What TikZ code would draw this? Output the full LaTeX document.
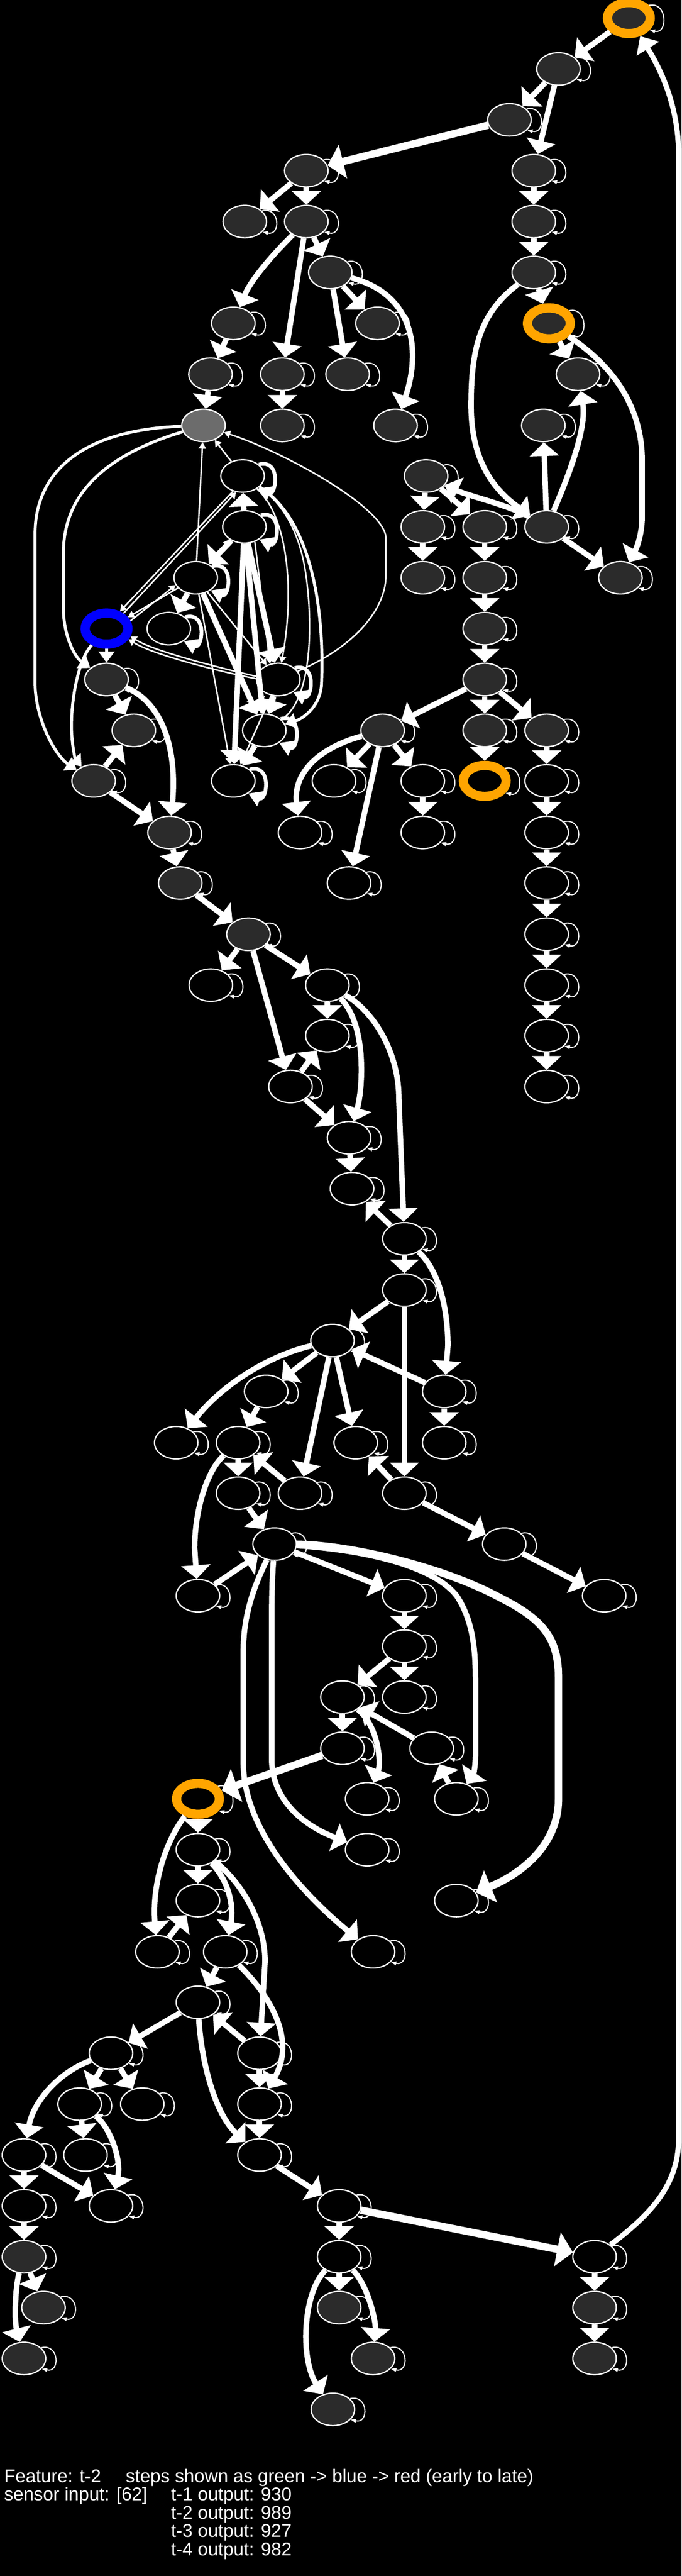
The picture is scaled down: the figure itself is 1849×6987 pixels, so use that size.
\documentclass[tikz,border=0pt]{standalone}
\usepackage{fontspec}
\setmainfont{Liberation Sans}
\usetikzlibrary{arrows.meta,shapes.geometric}
\definecolor{dkc}{HTML}{2B2B2B}
\definecolor{gyc}{HTML}{6C6C6C}
\definecolor{orc}{HTML}{FFA500}
\definecolor{blc}{HTML}{0000FF}
\begin{document}
\begin{tikzpicture}[x=1pt,y=-1pt,
 nd/.style={ellipse,draw=white,line width=3.5pt,minimum width=118pt,minimum height=88pt,inner sep=0pt},
 dk/.style={nd,fill=dkc},
 bk/.style={nd,fill=black},
 gy/.style={nd,fill=gyc},
 rg/.style={ellipse,line width=25pt,minimum width=116pt,minimum height=84pt,inner sep=0pt},
 orD/.style={rg,draw=orc,fill=dkc},
 orB/.style={rg,draw=orc,fill=black},
 blB/.style={rg,draw=blc,fill=black},
 ek/.style={draw=white,line width=15pt,-{Triangle[width=78pt,length=37pt]}},
 ex/.style={draw=white,line width=20pt,-{Triangle[width=92pt,length=43pt]}},
 ew/.style={draw=white,line width=14pt,-{Triangle[width=70pt,length=40pt]}},
 em/.style={draw=white,line width=8pt,-{Triangle[width=42pt,length=30pt]}},
 et/.style={draw=white,line width=4pt,-{Triangle[width=20pt,length=17pt]}},
 sl/.style={draw=white,line width=3pt,-{Triangle[width=10pt,length=15pt]}},
 slk/.style={draw=white,line width=10pt,-{Triangle[width=42pt,length=36pt]}},
 lab/.style={anchor=base west,inner sep=0pt,text=white,font=\fontsize{50}{50}\selectfont}
]
\useasboundingbox (0,0) rectangle (1849,6987);
\fill[black] (0,0) rectangle (1849,6987);

% ---------- nodes ----------
\node[orD] (A1) at (1706,49) {};
\node[dk] (A2) at (1515,187) {};
\node[dk] (A3) at (1382,325) {};
\node[dk] (A4) at (831,463) {};
\node[dk] (A5) at (1448,463) {};
\node[dk] (A6) at (664,601) {};
\node[dk] (A7) at (831,601) {};
\node[dk] (A8) at (1448,601) {};
\node[dk] (A9) at (896,739) {};
\node[dk] (A10) at (1448,739) {};
\node[dk] (A11) at (633,877) {};
\node[dk] (A12) at (1024,877) {};
\node[orD] (A13) at (1489,877) {};
\node[dk] (A14) at (571,1015) {};
\node[dk] (A15) at (766,1015) {};
\node[dk] (A16) at (943,1015) {};
\node[dk] (A17) at (1568,1015) {};
\node[gy] (B1) at (552,1154) {};
\node[dk] (B2) at (766,1154) {};
\node[dk] (B3) at (1073,1154) {};
\node[dk] (B4) at (1474,1154) {};
\node[bk] (B5) at (658,1291) {};
\node[dk] (B6) at (1156,1291) {};
\node[bk] (B7) at (663,1429) {};
\node[dk] (B8) at (1147,1429) {};
\node[dk] (B9) at (1315,1429) {};
\node[dk] (B10) at (1483,1429) {};
\node[bk] (B11) at (531,1567) {};
\node[dk] (B12) at (1147,1567) {};
\node[dk] (B13) at (1315,1567) {};
\node[dk] (B14) at (1683,1567) {};
\node[blB] (B15) at (289,1705) {};
\node[bk] (B16) at (458,1705) {};
\node[dk] (B17) at (1315,1705) {};
\node[dk] (B18) at (289,1843) {};
\node[bk] (B19) at (755,1843) {};
\node[dk] (B20) at (1315,1843) {};
\node[dk] (B21) at (363,1981) {};
\node[bk] (B22) at (717,1981) {};
\node[dk] (B23) at (1038,1981) {};
\node[dk] (B24) at (1315,1981) {};
\node[dk] (B25) at (1483,1981) {};
\node[dk] (B26) at (254,2118) {};
\node[bk] (B27) at (633,2118) {};
\node[bk] (B28) at (906,2118) {};
\node[bk] (B29) at (1147,2118) {};
\node[orB] (B30) at (1315,2118) {};
\node[bk] (B31) at (1483,2118) {};
\node[dk] (C1) at (460,2258) {};
\node[bk] (C2) at (814,2258) {};
\node[bk] (C3) at (1147,2258) {};
\node[bk] (C4) at (1483,2258) {};
\node[dk] (C5) at (489,2395) {};
\node[bk] (C6) at (947,2395) {};
\node[bk] (C7) at (1483,2395) {};
\node[dk] (C8) at (674,2534) {};
\node[bk] (C9) at (1483,2534) {};
\node[bk] (C10) at (572,2672) {};
\node[bk] (C11) at (888,2672) {};
\node[bk] (C12) at (1483,2672) {};
\node[bk] (C13) at (888,2809) {};
\node[bk] (C14) at (1483,2809) {};
\node[bk] (C15) at (788,2947) {};
\node[bk] (C16) at (1483,2947) {};
\node[bk] (C17) at (947,3086) {};
\node[bk] (D1) at (955,3224) {};
\node[bk] (D2) at (1097,3360) {};
\node[bk] (D3) at (1097,3499) {};
\node[bk] (D4) at (902,3636) {};
\node[bk] (D5) at (722,3774) {};
\node[bk] (D6) at (1205,3774) {};
\node[bk] (D7) at (478,3913) {};
\node[bk] (D8) at (646,3913) {};
\node[bk] (D9) at (965,3913) {};
\node[bk] (D10) at (1205,3913) {};
\node[bk] (D11) at (646,4050) {};
\node[bk] (D12) at (814,4050) {};
\node[bk] (D13) at (1097,4050) {};
\node[bk] (D14) at (745,4188) {};
\node[bk] (D15) at (1368,4188) {};
\node[bk] (E1) at (537,4328) {};
\node[bk] (E2) at (1097,4328) {};
\node[bk] (E3) at (1639,4328) {};
\node[bk] (E4) at (1097,4465) {};
\node[bk] (E5) at (929,4603) {};
\node[bk] (E6) at (1097,4603) {};
\node[bk] (E7) at (929,4742) {};
\node[bk] (E8) at (1171,4742) {};
\node[orB] (E9) at (537,4879) {};
\node[bk] (E10) at (996,4879) {};
\node[bk] (E11) at (1238,4879) {};
\node[bk] (E12) at (537,5017) {};
\node[bk] (E13) at (996,5017) {};
\node[bk] (E14) at (537,5155) {};
\node[bk] (E15) at (1238,5155) {};
\node[bk] (E16) at (427,5294) {};
\node[bk] (E17) at (611,5294) {};
\node[bk] (E18) at (1012,5294) {};
\node[bk] (F1) at (537,5431) {};
\node[bk] (F2) at (301,5569) {};
\node[bk] (F3) at (704,5569) {};
\node[bk] (F4) at (216,5707) {};
\node[bk] (F5) at (386,5707) {};
\node[bk] (F6) at (704,5707) {};
\node[bk] (F7) at (65,5845) {};
\node[bk] (F8) at (232,5845) {};
\node[bk] (F9) at (704,5845) {};
\node[bk] (F10) at (65,5983) {};
\node[bk] (F11) at (301,5983) {};
\node[bk] (F12) at (920,5983) {};
\node[dk] (F13) at (65,6121) {};
\node[bk] (F14) at (920,6121) {};
\node[bk] (F15) at (1613,6121) {};
\node[dk] (F16) at (118,6259) {};
\node[dk] (F17) at (920,6259) {};
\node[dk] (F18) at (1613,6259) {};
\node[dk] (G1) at (65,6397) {};
\node[dk] (G2) at (1012,6397) {};
\node[dk] (G3) at (1613,6397) {};
\node[dk] (G4) at (903,6535) {};

% ---------- self loops ----------
\foreach \n in {A1,A2,A3,A4,A5,A6,A7,A8,A9,A10,A11,A12,A13,A14,A15,A16,A17,
  B2,B3,B4,B6,B8,B9,B10,B12,B13,B14,B17,B18,B20,B21,B23,B24,B25,B26,B28,B29,B30,B31,
  C1,C2,C3,C4,C5,C6,C7,C8,C9,C10,C11,C12,C13,C14,C15,C16,C17,
  D1,D2,D3,D4,D5,D6,D7,D8,D9,D10,D11,D12,D13,D14,D15,
  E1,E2,E3,E4,E5,E6,E7,E8,E9,E10,E11,E12,E13,E14,E15,E16,E17,E18,
  F1,F2,F3,F4,F5,F6,F7,F8,F9,F10,F11,F12,F13,F14,F15,F16,F17,F18,
  G1,G2,G3,G4}
  {\draw[sl] (\n.32) .. controls +(50,-12) and +(50,12) .. (\n.-30);}
\foreach \n in {B5,B7,B11,B16,B19,B22,B27}
  {\draw[slk] (\n.35) .. controls +(62,-16) and +(50,22) .. (\n.-40);}

% ---------- top part ----------
\draw[ek] (A1) -- (A2);
\draw[ek] (A2) -- (A3);
\draw[ek] (A2) -- (A5);
\draw[ex] (A3) -- (A4);
\draw[ek] (A4) -- (A6);
\draw[ek] (A4) -- (A7);
\draw[ek] (A7) -- (A9);
\draw[ek] (A7) .. controls (740,690) and (680,760) .. (A11);
\draw[ek] (A7) -- (A15);
\draw[ek] (A9) -- (A12);
\draw[ek] (A9) -- (A16);
\draw[ek] (A9) .. controls (1130,800) and (1140,960) .. (B3);
\draw[ek] (A5) -- (A8);
\draw[ek] (A8) -- (A10);
\draw[ek] (A10) -- (A13);
\draw[ek] (A10) .. controls (1300,850) and (1278,950) .. (1278,1100) .. controls (1278,1250) and (1340,1330) .. (B10);
\draw[ek] (A13) -- (A17);
\draw[ek] (A13) .. controls (1660,990) and (1742,1100) .. (1742,1250) -- (1742,1400) .. controls (1742,1460) and (1720,1500) .. (B14);
\draw[ek] (A11) -- (A14);
\draw[ek] (A14) -- (B1);
\draw[ek] (A15) -- (B2);
\draw[ek] (B10) .. controls (1560,1250) and (1590,1150) .. (A17);
\draw[ek] (B10) -- (B4);
\draw[ek] (B10) -- (B14);
\draw[ek] (B10) .. controls (1380,1370) and (1270,1345) .. (B6);
\draw[ek] (B6) -- (B8);
\draw[ek] (B6) -- (B9);
\draw[ek] (B8) -- (B12);
\draw[ek] (B9) -- (B13);
\draw[ek] (B13) -- (B17);
\draw[ek] (B17) -- (B20);
\draw[ek] (B20) -- (B23);
\draw[ek] (B20) -- (B24);
\draw[ek] (B20) -- (B25);
\draw[ek] (B24) -- (B30);
\draw[ek] (B25) -- (B31);
\draw[ek] (B23) -- (B28);
\draw[ek] (B23) -- (B29);
\draw[ek] (B23) .. controls (860,2030) and (795,2100) .. (C2);
\draw[ek] (B23) -- (C6);
\draw[ek] (B29) -- (C3);
\draw[ek] (B31) -- (C4);
\draw[ek] (C4) -- (C7);
\draw[ek] (C7) -- (C9);
\draw[ek] (C9) -- (C12);
\draw[ek] (C12) -- (C14);
\draw[ek] (C14) -- (C16);

% ---------- tangle ----------
\draw[em] (B1) .. controls (250,1165) and (95,1260) .. (95,1450) -- (95,1850) .. controls (95,1950) and (150,2050) .. (B26);
\draw[em] (B1) .. controls (300,1230) and (172,1330) .. (172,1500) -- (172,1650) .. controls (172,1720) and (200,1780) .. (B18);
\draw[em] (B15) .. controls (212,1790) and (192,1900) .. (194,1980) .. controls (196,2030) and (205,2060) .. (B26);
\draw[em] (B15) -- (B18);
\draw[ek] (B18) -- (B21);
\draw[ek] (B26) -- (B21);
\draw[ek] (B26) -- (C1);
\draw[ek] (B18) .. controls (450,1910) and (480,2050) .. (C1);
\draw[et] (B11) -- (B1);
\draw[et] (B5) -- (B1);
\draw[et] (B19) .. controls (950,1760) and (1047,1660) .. (1047,1560) -- (1047,1460) .. controls (1047,1380) and (780,1230) .. (B1);
\draw[ek] (B7) -- (B5);
\draw[ek] (B7) -- (B11);
\draw[et] (B11.35) -- (B7.-140);
\draw[et] (B5.-122) -- (B15.52);
\draw[et] (B15.42) -- (B5.-112);
\draw[et] (B11.-150) -- (B15.28);
\draw[et] (B15.18) -- (B11.-160);
\draw[ek] (B11) -- (B16);
\draw[et] (B19.172) .. controls (600,1812) and (420,1768) .. (B15.-18);
\draw[et] (B19.178) .. controls (600,1822) and (420,1778) .. (B15.-26);
\draw[et] (B5) .. controls (780,1400) and (800,1600) .. (B19);
\draw[em] (B5) .. controls (860,1420) and (880,1700) .. (872,1860) .. controls (866,1920) and (820,1950) .. (B22);
\draw[et] (B22) .. controls (845,1900) and (850,1700) .. (830,1560) .. controls (815,1450) and (770,1370) .. (B5);
\draw[ek] (B7) -- (B19);
\draw[et] (B7.-55) -- (B19.118);
\draw[ek] (B7) -- (B22);
\draw[et] (B7.-78) -- (B22.100);
\draw[ek] (B7) -- (B27);
\draw[et] (B7.-96) -- (B27.86);
\draw[et] (B11) -- (B19);
\draw[ek] (B11) -- (B22);
\draw[et] (B11) -- (B27);
\draw[ek] (B19) -- (B22);
\draw[ek] (B22) -- (B27);
\draw[et] (B19) -- (B27);

% ---------- middle ----------
\draw[ek] (C1) -- (C5);
\draw[ek] (C5) -- (C8);
\draw[ek] (C8) -- (C10);
\draw[ek] (C8) -- (C11);
\draw[ek] (C8) -- (C15);
\draw[ek] (C11) -- (C13);
\draw[ek] (C11) .. controls (995,2780) and (985,2950) .. (C17);
\draw[ek] (C11) .. controls (1010,2740) and (1082,2850) .. (1082,2980) -- (D2);
\draw[ek] (C15) -- (C13);
\draw[ek] (C15) -- (C17);
\draw[ek] (C17) -- (D1);
\draw[ek] (D2) -- (D1);
\draw[ek] (D2) -- (D3);
\draw[ek] (D2) .. controls (1195,3450) and (1215,3560) .. (1215,3650) -- (D6);
\draw[ek] (D3) -- (D4);
\draw[ek] (D3) -- (D13);
\draw[ek] (D6) -- (D4);
\draw[ek] (D6) -- (D10);
\draw[ek] (D4) -- (D5);
\draw[ek] (D4) .. controls (720,3680) and (600,3760) .. (D7);
\draw[ek] (D4) -- (D12);
\draw[ek] (D4) -- (D9);
\draw[ek] (D5) -- (D8);
\draw[ek] (D8) -- (D11);
\draw[ek] (D12) -- (D8);
\draw[ek] (D8) .. controls (560,3990) and (528,4100) .. (528,4200) -- (E1);
\draw[ek] (D11) -- (D14);
\draw[ek] (D13) -- (D9);
\draw[ek] (D13) -- (D15);
\draw[ek] (E1) -- (D14);
\draw[ek] (D14) -- (E2);
\draw[ek] (D14) .. controls (1000,4205) and (1180,4250) .. (1240,4330) .. controls (1285,4400) and (1290,4480) .. (1290,4560) -- (1290,4760) .. controls (1290,4790) and (1285,4810) .. (E11);
\draw[ex] (D14) .. controls (950,4190) and (1200,4250) .. (1350,4330) .. controls (1470,4390) and (1515,4440) .. (1515,4550) -- (1515,4880) .. controls (1515,5000) and (1420,5080) .. (E15);
\draw[ek] (D14) .. controls (690,4300) and (660,4380) .. (660,4480) -- (660,4780) .. controls (660,4980) and (850,5160) .. (E18);
\draw[ek] (D14) .. controls (740,4260) and (737,4300) .. (737,4400) -- (737,4770) .. controls (737,4880) and (820,4950) .. (E13);
\draw[ek] (D15) -- (E3);
\draw[ek] (E2) -- (E4);
\draw[ek] (E4) -- (E5);
\draw[ek] (E4) -- (E6);
\draw[ek] (E5) -- (E7);
\draw[ek] (E8) -- (E5);
\draw[ek] (E5) .. controls (1025,4680) and (1035,4780) .. (E10);
\draw[ex] (E7) -- (E9);
\draw[ek] (E11) -- (E8);
\draw[ek] (E9) -- (E12);
\draw[ek] (E9) .. controls (445,5000) and (412,5120) .. (E16);
\draw[ek] (E12) -- (E14);
\draw[ek] (E12) .. controls (620,5100) and (635,5170) .. (E17);
\draw[ek] (E12) .. controls (640,5090) and (719,5200) .. (719,5320) -- (F3);
\draw[ek] (E16) -- (E14);

% ---------- bottom ----------
\draw[ek] (E17) -- (F1);
\draw[ek] (E17) .. controls (730,5410) and (805,5530) .. (F6);
\draw[ek] (F3) -- (F1);
\draw[ek] (F1) -- (F2);
\draw[ek] (F1) .. controls (545,5580) and (580,5730) .. (F9);
\draw[ek] (F3) -- (F6);
\draw[ek] (F6) -- (F9);
\draw[ek] (F2) -- (F4);
\draw[ek] (F2) -- (F5);
\draw[ek] (F2) .. controls (160,5620) and (90,5700) .. (F7);
\draw[ek] (F4) -- (F8);
\draw[ek] (F4) .. controls (300,5770) and (330,5860) .. (F11);
\draw[ek] (F7) -- (F10);
\draw[ek] (F7) -- (F11);
\draw[ek] (F10) -- (F13);
\draw[ek] (F9) -- (F12);
\draw[ek] (F12) -- (F14);
\draw[ex] (F12) -- (F15);
\draw[ew] (F15) .. controls (1760,6010) and (1841,5930) .. (1841,5800) -- (1841,420) .. controls (1841,300) and (1800,200) .. (A1);
\draw[ek] (F15) -- (F18);
\draw[ek] (F18) -- (G3);
\draw[ek] (F13) -- (F16);
\draw[ek] (F13) .. controls (42,6200) and (38,6290) .. (G1);
\draw[ek] (F14) -- (F17);
\draw[ek] (F14) .. controls (1000,6200) and (1020,6300) .. (G2);
\draw[ek] (F14) .. controls (820,6220) and (815,6400) .. (G4);

% ---------- legend ----------
\node[lab] (t1) at (11,6733) {Feature: t-2};
\node[lab] (t2) at (341,6733) {steps shown as green -> blue -> red (early to late)};
\node[lab] (t3) at (11,6782) {sensor input: [62]};
\node[lab] (t4) at (464,6782) {t-1 output: 930};
\node[lab] (t5) at (464,6832) {t-2 output: 989};
\node[lab] (t6) at (464,6882) {t-3 output: 927};
\node[lab] (t7) at (464,6932) {t-4 output: 982};
\end{tikzpicture}
\end{document}
